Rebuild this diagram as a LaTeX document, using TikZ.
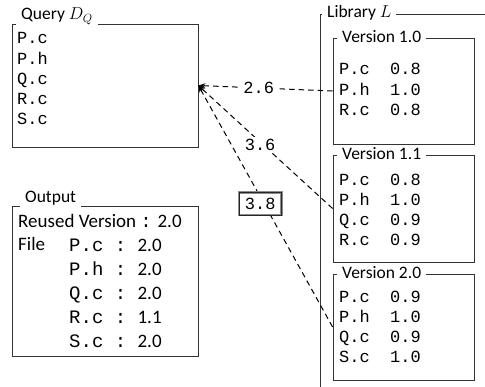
\documentclass[tikz,border=0pt]{standalone}
\usepackage{fontspec}
\setmainfont{Carlito}
\setmonofont{Liberation Mono}
\usetikzlibrary{arrows.meta}
\tikzstyle{frame}=[draw=black!80, line width=0.8pt, inner sep=0pt]
\tikzstyle{legend}=[fill=white, inner xsep=5pt, inner ysep=2pt, font=\fontsize{17.5}{20}\selectfont]
\tikzstyle{listing}=[align=left, inner sep=0pt, font=\fontsize{17}{20.3}\selectfont\ttfamily]
\tikzstyle{outlist}=[align=left, inner sep=0pt, font=\fontsize{19}{24.2}\selectfont]
\tikzstyle{match}=[draw=black, line width=1pt, dash pattern=on 5.5pt off 4pt, -{Stealth[length=7pt, width=5pt]}]
\tikzstyle{score}=[fill=white, inner sep=2pt, font=\fontsize{17}{20}\selectfont\ttfamily]
\tikzstyle{bestscore}=[score, solid, draw=black!45, double=black!85, double distance=0.6pt, line width=0.8pt, inner xsep=6pt, inner ysep=5.5pt]

\begin{document}
\begin{tikzpicture}[x=1pt, y=-1pt]
  \useasboundingbox (0,0) rectangle (485,387);
  % query
  \node[frame, minimum width=186pt, minimum height=123pt] (query) at (105,85.5) {};
  \node[legend, anchor=base west] (querylabel) at (16,20) {Query $D_Q$};
  \node[listing, anchor=base west] (querytext) at (17,125) {P.c\\P.h\\Q.c\\R.c\\S.c};
  % output
  \node[frame, minimum width=186pt, minimum height=150pt] (output) at (105,281) {};
  \node[legend, anchor=base west] (outputlabel) at (20,203) {Output};
  \node[outlist, anchor=base west] (reused) at (18,228) {Reused Version \texttt{:} 2.0};
  \node[outlist, anchor=base west] (filelabel) at (18,251) {File};
  \node[outlist, anchor=base west] (files) at (69,348) {\texttt{P.c : }2.0\\\texttt{P.h : }2.0\\\texttt{Q.c : }2.0\\\texttt{R.c : }1.1\\\texttt{S.c : }2.0};
  % library
  \draw[frame] (485,14) -| (320,387);
  \node[legend, anchor=west] (librarylabel) at (322,13) {Library $L$};
  \node[frame, minimum width=141pt, minimum height=106pt] (v10) at (403.5,91) {};
  \node[frame, minimum width=141pt, minimum height=107pt] (v11) at (403.5,208.5) {};
  \node[frame, minimum width=141pt, minimum height=106pt] (v20) at (403.5,327) {};
  \node[legend, anchor=west] (v10label) at (337,37) {Version 1.0};
  \node[legend, anchor=west] (v11label) at (337,154) {Version 1.1};
  \node[legend, anchor=west] (v20label) at (337,273) {Version 2.0};
  \node[listing, anchor=base west] (v10text) at (339,115.5) {P.c~~0.8\\P.h~~1.0\\R.c~~0.8};
  \node[listing, anchor=base west] (v11text) at (339,246) {P.c~~0.8\\P.h~~1.0\\Q.c~~0.9\\R.c~~0.9};
  \node[listing, anchor=base west] (v20text) at (339,363) {P.c~~0.9\\P.h~~1.0\\Q.c~~0.9\\S.c~~1.0};
  % matches
  \draw[match] (v10.west) -- node[score, pos=0.55] (s10) {2.6} (query.east);
  \draw[match] (v11.west) -- node[score, pos=0.54, yshift=-3pt] (s11) {3.6} (query.east);
  \draw[match] (v20.west) -- node[bestscore, pos=0.51, xshift=-4pt] (s20) {3.8} (query.east);
\end{tikzpicture}
\end{document}
